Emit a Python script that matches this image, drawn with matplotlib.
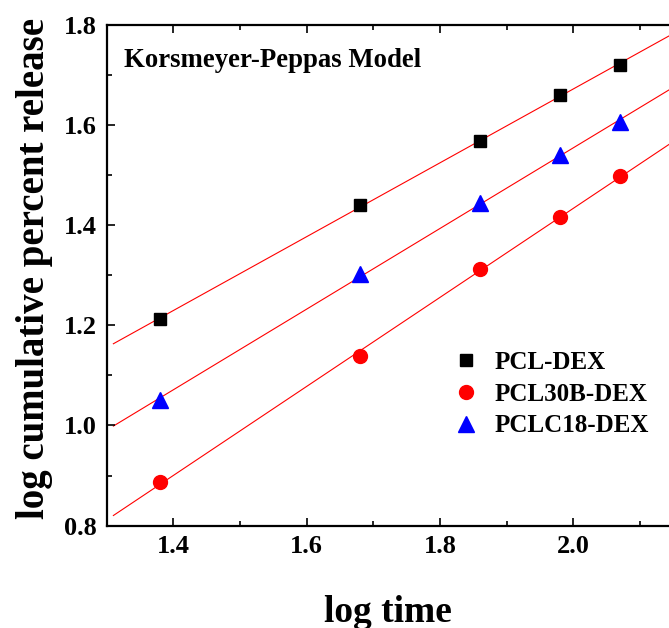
import matplotlib
matplotlib.use("Agg")
import matplotlib.pyplot as plt
import numpy as np
from matplotlib.ticker import MultipleLocator, FuncFormatter

# log time values
log_t = [1.38, 1.68, 1.86, 1.98, 2.07]

# log cumulative percent release
pcl_dex = [1.212, 1.440, 1.568, 1.660, 1.719]
pcl30b_dex = [0.887, 1.139, 1.313, 1.416, 1.497]
pclc18_dex = [1.051, 1.303, 1.443, 1.539, 1.606]

plt.rcParams['font.family'] = ['Liberation Serif', 'DejaVu Serif']
plt.rcParams['font.weight'] = 'bold'

fig = plt.figure(figsize=(6.69, 6.28), dpi=100)
ax = fig.add_axes([0.1595, 0.1629, 0.897, 0.798])

series = [
    (pcl_dex, 'PCL-DEX', 's', 'black', 9),
    (pcl30b_dex, 'PCL30B-DEX', 'o', 'red', 10),
    (pclc18_dex, 'PCLC18-DEX', '^', 'blue', 11),
]

xfit = np.linspace(1.31, 2.2, 50)
for y, lab, m, c, ms in series:
    k, b = np.polyfit(log_t, y, 1)
    ax.plot(xfit, k * xfit + b, color='red', lw=0.8, zorder=1)
for y, lab, m, c, ms in series:
    ax.plot(log_t, y, linestyle='none', marker=m, color=c, markersize=ms,
            label=lab, zorder=2)

ax.set_xlim(1.3, 2.2)
ax.set_ylim(0.8, 1.8)
ax.xaxis.set_major_locator(MultipleLocator(0.2))
ax.xaxis.set_minor_locator(MultipleLocator(0.1))
ax.yaxis.set_major_locator(MultipleLocator(0.2))
ax.yaxis.set_minor_locator(MultipleLocator(0.1))
# the figure is cropped at 2.14, so 2.2 has no visible label
ax.xaxis.set_major_formatter(FuncFormatter(lambda v, p: '' if v > 2.1 else '%.1f' % v))
ax.yaxis.set_major_formatter(plt.FormatStrFormatter('%.1f'))

ax.tick_params(which='both', direction='in', top=True, right=False,
               width=1.2, labelsize=19)
ax.tick_params(which='major', length=6, pad=7)
ax.tick_params(which='minor', length=3.5)
for s in ax.spines.values():
    s.set_linewidth(1.6)

ax.set_xlabel('log time', fontsize=27, fontweight='bold', labelpad=26)
ax.set_ylabel('log cumulative percent release', fontsize=28,
              fontweight='bold', labelpad=8)
ax.xaxis.label.set_x(0.469)
ax.yaxis.label.set_y(0.514)

ax.text(0.029, 0.929, 'Korsmeyer-Peppas Model', transform=ax.transAxes,
        fontsize=19.3, fontweight='bold', va='center', ha='left')

ax.legend(loc='upper left', bbox_to_anchor=(0.557, 0.369), frameon=False,
          fontsize=18, handletextpad=0.55, labelspacing=0.35,
          handlelength=1.2, borderaxespad=0)

fig.savefig('out.png', dpi=100)
